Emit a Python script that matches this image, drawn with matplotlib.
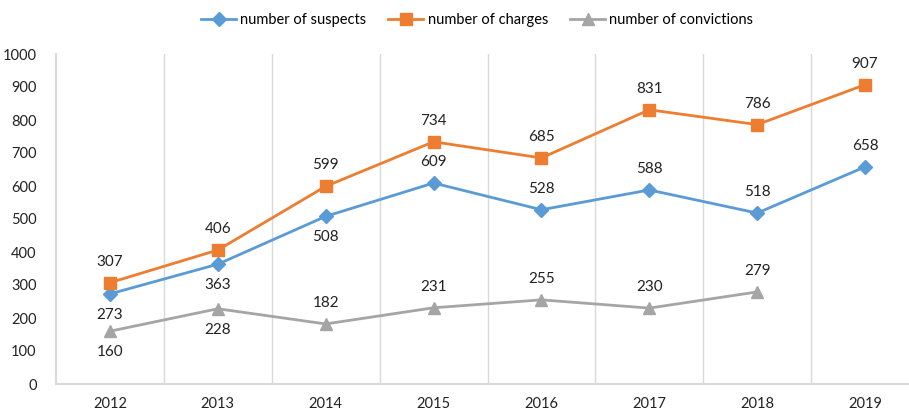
import numpy as np
import matplotlib
matplotlib.use("Agg")
import matplotlib.pyplot as plt

plt.rcParams['font.family'] = ['Lato', 'DejaVu Sans']

years = ["2012", "2013", "2014", "2015", "2016", "2017", "2018", "2019"]
suspects = [273, 363, 508, 609, 528, 588, 518, 658]
charges = [307, 406, 599, 734, 685, 831, 786, 907]
convictions = [160, 228, 182, 231, 255, 230, 279]

# label placement: +1 above, -1 below
suspects_pos = [-1, -1, -1, 1, 1, 1, 1, 1]
charges_pos = [1] * 8
convictions_pos = [-1, -1, 1, 1, 1, 1, 1]

blue = "#5B9BD5"
orange = "#ED7D31"
gray = "#A5A5A5"

fig = plt.figure(figsize=(9.09, 4.12), dpi=100)
ax = fig.add_axes([56/909, 28/412, 863/909, 330/412])

x = np.arange(len(years))
ax.plot(x, suspects, color=blue, lw=2, marker="D", ms=7, label="number of suspects")
ax.plot(x, charges, color=orange, lw=2, marker="s", ms=8, label="number of charges")
ax.plot(x[:len(convictions)], convictions, color=gray, lw=2, marker="^", ms=9, label="number of convictions")

for vals, pos in [(suspects, suspects_pos), (charges, charges_pos), (convictions, convictions_pos)]:
    for i, (v, p) in enumerate(zip(vals, pos)):
        ax.annotate(str(v), (i, v), xytext=(0, 15 * p), textcoords="offset points",
                    ha="center", va="center", fontsize=11, color="#222222")

ax.set_xlim(-0.5, len(years) - 0.5)
ax.set_ylim(0, 1000)
ax.set_yticks(range(0, 1001, 100))
ax.set_xticks(x)
ax.set_xticklabels(years)
for b in np.arange(0.5, len(years), 1):
    ax.axvline(b, color="#D9D9D9", lw=1, zorder=0)

for s in ["top", "right"]:
    ax.spines[s].set_visible(False)
ax.spines["left"].set_color("#D9D9D9")
ax.spines["bottom"].set_color("#D9D9D9")
ax.spines["left"].set_linewidth(1.5)
ax.spines["bottom"].set_linewidth(1.5)
ax.tick_params(length=0, labelsize=10.5, colors="#222222")
ax.tick_params(axis="y", pad=14)
ax.tick_params(axis="x", pad=9)

fig.legend(loc="upper center", bbox_to_anchor=(0.525, 1.0), ncol=3, frameon=False,
           fontsize=10.5, handlelength=2.4, columnspacing=1.5, handletextpad=0.3)

fig.savefig("out.png", dpi=100)
